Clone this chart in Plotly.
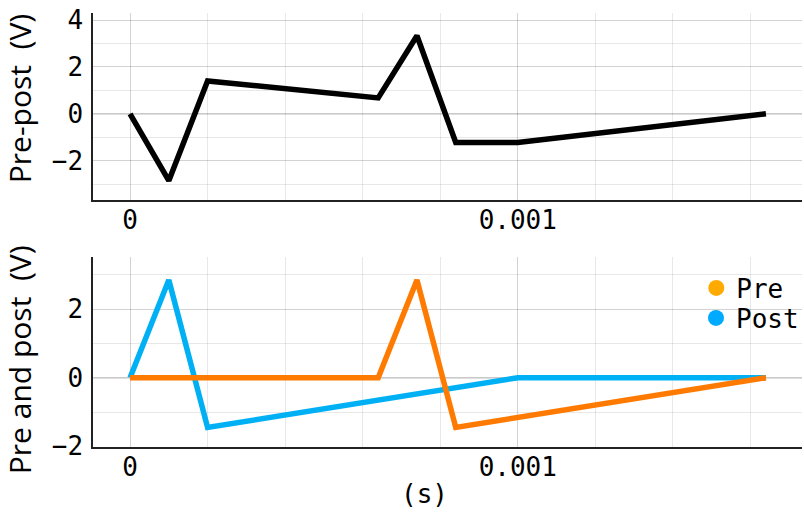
import plotly.graph_objects as go

# Time stamps (s) and voltages (V) of the two spike waveforms
pre_t = [0.0, 0.00064, 0.00074, 0.00084, 0.00164]
pre_v = [0.0, 0.0, 2.85, -1.45, 0.0]

post_t = [0.0, 0.0001, 0.0002, 0.001, 0.00164]
post_v = [0.0, 2.85, -1.45, 0.0, 0.0]

# Difference signal pre - post
diff_t = [0.0, 0.0001, 0.0002, 0.00064, 0.00074, 0.00084, 0.001, 0.00164]
diff_v = [0.0, -2.85, 1.4, 0.68, 3.33, -1.22, -1.22, 0.0]

x_ticks = [0, 0.001]
x_tick_text = ["0", "0.001"]
x_grid = [0.0, 0.0002, 0.0004, 0.0006, 0.0008, 0.001, 0.0012, 0.0014, 0.0016]
top_y_ticks = [-2, 0, 2, 4]
top_y_grid = [-3, -2, -1, 0, 1, 2, 3, 4]
bottom_y_ticks = [-2, 0, 2]
bottom_y_grid = [-2, -1, 0, 1, 2, 3]

MONO = "DejaVu Sans Mono"
SANS = "Open Sans"
GRID = "rgba(0,0,0,0.09)"
ZERO = "rgba(0,0,0,0.13)"
LINE_W = 5.5

fig = go.Figure()

fig.add_trace(go.Scatter(x=diff_t, y=diff_v, mode="lines",
                         line=dict(color="black", width=LINE_W),
                         xaxis="x", yaxis="y", showlegend=False))
fig.add_trace(go.Scatter(x=post_t, y=post_v, mode="lines",
                         line=dict(color="#00b0f4", width=LINE_W),
                         xaxis="x2", yaxis="y2", showlegend=False))
fig.add_trace(go.Scatter(x=pre_t, y=pre_v, mode="lines",
                         line=dict(color="#ff7a00", width=LINE_W),
                         xaxis="x2", yaxis="y2", showlegend=False))

# Legend entries, one per legend box so the row spacing can be set freely
fig.add_trace(go.Scatter(x=[None], y=[None], mode="markers", name="Pre",
                         marker=dict(color="#ffaa00", size=18),
                         xaxis="x2", yaxis="y2", legend="legend"))
fig.add_trace(go.Scatter(x=[None], y=[None], mode="markers", name="Post",
                         marker=dict(color="#00aaff", size=18),
                         xaxis="x2", yaxis="y2", legend="legend2"))

x_range = [-0.0000955, 0.001733]


def xaxis(anchor):
    return dict(
        range=x_range, anchor=anchor,
        tickmode="array", tickvals=x_ticks, ticktext=x_tick_text,
        tickfont=dict(family=MONO, size=26, color="black"),
        showgrid=True, gridcolor=GRID, gridwidth=1,
        minor=dict(tickmode="array", tickvals=x_grid, showgrid=True,
                   gridcolor=GRID, gridwidth=1, ticks=""),
        showline=True, linecolor="#222222", linewidth=1.5,
        zeroline=False, ticks="", ticklabelstandoff=-4,
    )


def yaxis(anchor, domain, rng, ticks, grid):
    return dict(
        domain=domain, range=rng, anchor=anchor,
        tickmode="array", tickvals=ticks,
        tickfont=dict(family=MONO, size=26, color="black"),
        showgrid=True, gridcolor=GRID, gridwidth=1,
        minor=dict(tickmode="array", tickvals=grid, showgrid=True,
                   gridcolor=GRID, gridwidth=1, ticks=""),
        showline=True, linecolor="#222222", linewidth=1.5,
        zeroline=True, zerolinecolor=ZERO, zerolinewidth=1.5,
        ticks="", ticklabelstandoff=3,
    )


legend_style = dict(xanchor="left", yanchor="middle",
                    bgcolor="rgba(0,0,0,0)", borderwidth=0,
                    font=dict(family=MONO, size=26, color="black"))

fig.update_layout(
    width=804, height=512,
    margin=dict(l=93, r=0, t=13, b=65),
    paper_bgcolor="white", plot_bgcolor="white",
    xaxis=xaxis("y"),
    yaxis=yaxis("x", [0.5691, 1.0], [-3.675, 4.30], top_y_ticks, top_y_grid),
    xaxis2=xaxis("y2"),
    yaxis2=yaxis("x2", [0.0, 0.4378], [-2.02, 3.52], bottom_y_ticks, bottom_y_grid),
    legend=dict(x=(698 - 93) / 711, y=(447 - 288) / 434, **legend_style),
    legend2=dict(x=(698 - 93) / 711, y=(447 - 318) / 434, **legend_style),
    annotations=[
        dict(text="Pre-post  (V)", textangle=-90, xref="paper", yref="paper",
             x=(19 - 93) / 711, y=(447 - 99) / 434, xanchor="center", yanchor="middle",
             showarrow=False, font=dict(family=SANS, size=30, color="black")),
        dict(text="Pre and post  (V)", textangle=-90, xref="paper", yref="paper",
             x=(19 - 93) / 711, y=(447 - 360) / 434, xanchor="center", yanchor="middle",
             showarrow=False, font=dict(family=SANS, size=30, color="black")),
        dict(text="(s)", xref="paper", yref="paper",
             x=(425 - 93) / 711, y=-(494 - 447) / 434, xanchor="center", yanchor="middle",
             showarrow=False, font=dict(family=MONO, size=26, color="black")),
    ],
)

fig.write_html("out.html")
